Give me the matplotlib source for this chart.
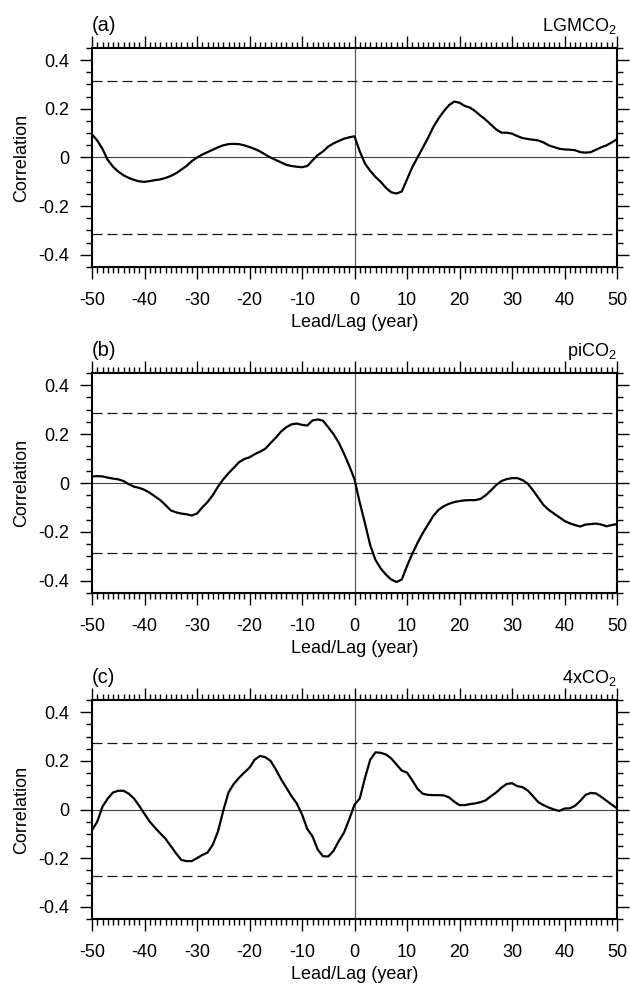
import matplotlib
matplotlib.use("Agg")
import matplotlib.pyplot as plt
from matplotlib.ticker import MultipleLocator
import numpy as np

plt.rcParams['font.family'] = ['Liberation Sans', 'DejaVu Sans']
plt.rcParams['mathtext.fontset'] = 'custom'
plt.rcParams['mathtext.rm'] = 'Liberation Sans'

lags = list(range(-50, 51))

corr_lgm = [0.095, 0.07, 0.035, -0.01, -0.038, -0.058, -0.073, -0.084, -0.092, -0.098,
            -0.1, -0.097, -0.093, -0.09, -0.084, -0.076, -0.065, -0.05, -0.035, -0.015,
            0.0, 0.012, 0.022, 0.032, 0.042, 0.05, 0.055, 0.056, 0.055, 0.05,
            0.043, 0.035, 0.025, 0.012, 0.0, -0.01, -0.02, -0.03, -0.035, -0.038,
            -0.04, -0.035, -0.012, 0.01, 0.025, 0.045, 0.058, 0.068, 0.077, 0.083,
            0.087,
            0.025, -0.025, -0.055, -0.08, -0.1, -0.125, -0.143, -0.148, -0.14, -0.09,
            -0.04, 0.0, 0.04, 0.08, 0.125, 0.16, 0.19, 0.215, 0.23, 0.225,
            0.212, 0.205, 0.19, 0.172, 0.155, 0.135, 0.115, 0.102, 0.102, 0.098,
            0.088, 0.08, 0.076, 0.073, 0.07, 0.062, 0.05, 0.043, 0.036, 0.033,
            0.032, 0.03, 0.022, 0.02, 0.022, 0.032, 0.042, 0.05, 0.062, 0.075]

corr_pi = [0.027, 0.028, 0.027, 0.022, 0.018, 0.015, 0.008, -0.005, -0.015, -0.02,
           -0.028, -0.04, -0.055, -0.07, -0.09, -0.112, -0.12, -0.125, -0.128, -0.133,
           -0.125, -0.1, -0.078, -0.05, -0.015, 0.015, 0.04, 0.062, 0.085, 0.098,
           0.105, 0.118, 0.128, 0.14, 0.163, 0.185, 0.21, 0.228, 0.24, 0.243,
           0.238, 0.235, 0.256, 0.26, 0.255, 0.228, 0.2, 0.165, 0.12, 0.07,
           0.015,
           -0.08, -0.165, -0.255, -0.315, -0.35, -0.375, -0.395, -0.405, -0.395, -0.34,
           -0.29, -0.245, -0.205, -0.17, -0.135, -0.11, -0.095, -0.085, -0.078, -0.074,
           -0.071, -0.07, -0.07, -0.065, -0.05, -0.03, -0.008, 0.008, 0.016, 0.02,
           0.02, 0.012, -0.003, -0.03, -0.06, -0.09, -0.11, -0.125, -0.14, -0.155,
           -0.165, -0.172, -0.178, -0.17, -0.168, -0.166, -0.17, -0.177, -0.172, -0.168]

corr_4x = [-0.085, -0.05, 0.012, 0.045, 0.07, 0.077, 0.077, 0.065, 0.045, 0.015,
           -0.018, -0.05, -0.075, -0.098, -0.12, -0.15, -0.18, -0.207, -0.212, -0.212,
           -0.2, -0.187, -0.177, -0.145, -0.09, -0.005, 0.07, 0.105, 0.13, 0.152,
           0.172, 0.205, 0.22, 0.215, 0.2, 0.165, 0.125, 0.09, 0.055, 0.025,
           -0.02, -0.08, -0.11, -0.165, -0.192, -0.193, -0.17, -0.13, -0.095, -0.04,
           0.02,
           0.045, 0.13, 0.205, 0.235, 0.233, 0.226, 0.21, 0.185, 0.16, 0.152,
           0.12, 0.085, 0.065, 0.06, 0.059, 0.059, 0.058, 0.05, 0.032, 0.018,
           0.018, 0.022, 0.025, 0.03, 0.038, 0.055, 0.07, 0.09, 0.105, 0.108,
           0.096, 0.092, 0.078, 0.055, 0.03, 0.018, 0.008, 0.0, -0.006, 0.004,
           0.005, 0.015, 0.035, 0.06, 0.068, 0.066, 0.052, 0.036, 0.02, 0.005]

signif = [0.316, 0.285, 0.273]
panel_labels = ['(a)', '(b)', '(c)']
run_names = ['LGMCO$_\\mathregular{2}$', 'piCO$_\\mathregular{2}$', '4xCO$_\\mathregular{2}$']
series = [corr_lgm, corr_pi, corr_4x]
xtick_vals = list(range(-50, 51, 10))
ytick_vals = [-0.4, -0.2, 0, 0.2, 0.4]
ytick_labels = ['-0.4', '-0.2', '0', '0.2', '0.4']

W, H = 630, 986
fig = plt.figure(figsize=(W / 100, H / 100), dpi=100)

boxes = [(48, 267), (373, 593), (700, 919)]
left, right = 92, 617
fs = 13

for (top, bot), y, sig, plab, name in zip(boxes, series, signif, panel_labels, run_names):
    ax = fig.add_axes([left / W, 1 - bot / H, (right - left) / W, (bot - top) / H])
    ax.axhline(0, color='0.25', lw=0.8, zorder=1)
    ax.axvline(0, color='0.35', lw=0.9, zorder=1)
    for s in (sig, -sig):
        ax.axhline(s, color='0.1', lw=0.9, linestyle=(0, (8, 4)), zorder=1)
    ax.plot(lags, y, color='black', lw=1.6, zorder=3)
    ax.set_xlim(-50, 50)
    ax.set_ylim(-0.45, 0.45)
    ax.xaxis.set_minor_locator(MultipleLocator(1))
    ax.yaxis.set_minor_locator(MultipleLocator(0.05))
    ax.set_yticks(ytick_vals)
    ax.set_yticklabels(ytick_labels)
    ax.set_xticks(xtick_vals)
    ax.set_xticklabels([str(v) for v in xtick_vals])
    ax.tick_params(which='both', direction='out', top=True, right=True, width=1.0,
                   labelsize=fs, color='black')
    ax.tick_params(which='major', length=8.6)
    ax.tick_params(which='minor', length=4.5)
    ax.tick_params(axis='x', which='major', pad=9.5)
    ax.tick_params(axis='y', which='major', pad=8)
    for sp in ax.spines.values():
        sp.set_linewidth(1.5)
    ax.set_xlabel('Lead/Lag (year)', fontsize=fs, labelpad=3.5)
    ax.set_ylabel('Correlation', fontsize=fs, labelpad=6)
    ax.annotate(plab, xy=(0, 1), xycoords='axes fraction', xytext=(0, 12.5),
                textcoords='offset points', ha='left', va='baseline', fontsize=14.5)
    ax.annotate(name, xy=(1, 1), xycoords='axes fraction', xytext=(0, 12.5),
                textcoords='offset points', ha='right', va='baseline', fontsize=13)

fig.savefig('out.png', dpi=100)
